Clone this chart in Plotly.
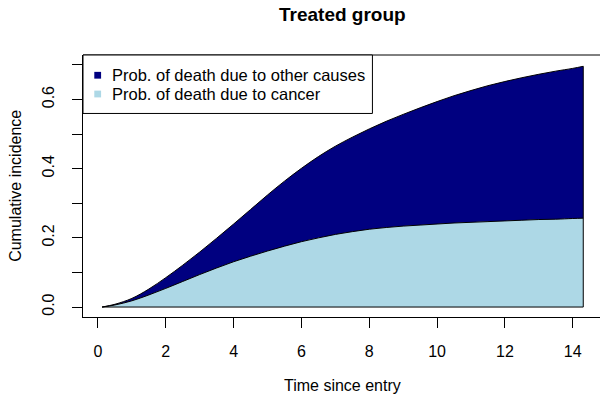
import plotly.graph_objects as go

# ---- data ----
time = [0.12, 0.5, 1.0, 1.5, 2.0, 2.5, 3.0, 3.5, 4.0, 4.5, 5.0, 5.5, 6.0, 6.5,
        7.0, 7.5, 8.0, 8.5, 9.0, 9.5, 10.0, 10.5, 11.0, 11.5, 12.0, 12.5,
        13.0, 13.5, 14.0, 14.31]
cum_cancer = [0.0, 0.006, 0.018, 0.035, 0.054, 0.074, 0.094, 0.113, 0.131,
              0.147, 0.162, 0.176, 0.189, 0.200, 0.210, 0.218, 0.225, 0.230,
              0.234, 0.237, 0.240, 0.243, 0.245, 0.247, 0.249, 0.251, 0.253,
              0.254, 0.256, 0.257]
cum_total = [0.0, 0.008, 0.025, 0.052, 0.085, 0.121, 0.159, 0.199, 0.240,
             0.282, 0.324, 0.364, 0.401, 0.435, 0.465, 0.491, 0.515, 0.537,
             0.557, 0.576, 0.594, 0.611, 0.626, 0.640, 0.652, 0.663, 0.673,
             0.682, 0.690, 0.696]
x_ticks = [0, 2, 4, 6, 8, 10, 12, 14]
y_ticks = [0.0, 0.1, 0.2, 0.3, 0.4, 0.5, 0.6, 0.7]
y_ticklabels = ["0.0", "", "0.2", "", "0.4", "", "0.6", ""]
legend_labels = ["Prob. of death due to other causes", "Prob. of death due to cancer"]
title_text = "Treated group"
x_title = "Time since entry"
y_title = "Cumulative incidence"

NAVY = "#000080"
LIGHTBLUE = "#ADD8E6"
FONT = "Liberation Sans, Arial, sans-serif"

W, H = 600, 395
L, R, T, B = 82.7, 0, 54.7, 77.7
PW, PH = W - L - R, H - T - B

def px_x(p):
    return (p - L) / PW

def px_y(p):
    return 1 - (p - T) / PH

fig = go.Figure()

# cancer area (0 -> cancer)
fig.add_trace(go.Scatter(
    x=time, y=cum_cancer, fill="tozeroy", fillcolor=LIGHTBLUE,
    mode="lines", line=dict(color="black", width=1, shape="spline", smoothing=1.0),
    showlegend=False, hoverinfo="skip"))
# other causes area (cancer -> total)
fig.add_trace(go.Scatter(
    x=time, y=cum_total, fill="tonexty", fillcolor=NAVY,
    mode="lines", line=dict(color="black", width=1, shape="spline", smoothing=1.0),
    showlegend=False, hoverinfo="skip"))
# polygon edges: baseline and right side
fig.add_trace(go.Scatter(
    x=[time[0], time[-1], time[-1]], y=[0.0, 0.0, cum_total[-1]],
    mode="lines", line=dict(color="black", width=1),
    showlegend=False, hoverinfo="skip"))

axis_common = dict(
    showgrid=False, zeroline=False, showline=True, linecolor="black",
    linewidth=1, ticks="outside", ticklen=10, tickwidth=1, tickcolor="black",
    tickfont=dict(family=FONT, size=16, color="black"))

fig.update_xaxes(range=[-0.442, 14.804], tickvals=x_ticks,
                 ticktext=[str(v) for v in x_ticks], ticklabelstandoff=10,
                 **axis_common)
fig.update_yaxes(range=[-0.0288, 0.7287], tickvals=y_ticks,
                 ticktext=y_ticklabels, tickangle=-90, ticklabelstandoff=12,
                 **axis_common)

shapes = [
    # top border of the plot box
    dict(type="line", xref="paper", yref="paper", x0=0, x1=1, y0=1, y1=1,
         line=dict(color="black", width=1)),
    # legend box
    dict(type="rect", xref="paper", yref="paper",
         x0=px_x(82.7), x1=px_x(372.3), y0=px_y(113.3), y1=px_y(54.7),
         fillcolor="white", line=dict(color="black", width=1), layer="above"),
]
legend_rows = [(75.0, NAVY), (93.8, LIGHTBLUE)]
for (cy, col) in legend_rows:
    shapes.append(dict(type="rect", xref="paper", yref="paper",
                       x0=px_x(94.0), x1=px_x(100.8),
                       y0=px_y(cy + 3.4), y1=px_y(cy - 3.4),
                       fillcolor=col, line=dict(width=0), layer="above"))

annotations = [
    dict(text="<b>%s</b>" % title_text, xref="paper", yref="paper",
         x=px_x(342.5), y=px_y(14.5), xanchor="center", yanchor="middle",
         showarrow=False, font=dict(family=FONT, size=19, color="black")),
    dict(text=x_title, xref="paper", yref="paper",
         x=px_x(342.5), y=px_y(386), xanchor="center", yanchor="middle",
         showarrow=False, font=dict(family=FONT, size=16, color="black")),
    dict(text=y_title, xref="paper", yref="paper",
         x=px_x(14.5), y=px_y(186), xanchor="center", yanchor="middle",
         textangle=-90, showarrow=False,
         font=dict(family=FONT, size=16, color="black")),
]
for (cy, col), lab in zip(legend_rows, legend_labels):
    annotations.append(dict(text=lab, xref="paper", yref="paper",
                            x=px_x(109.7), y=px_y(cy), xanchor="left",
                            yanchor="middle", showarrow=False,
                            font=dict(family=FONT, size=16.5, color="black")))

fig.update_layout(
    width=W, height=H,
    margin=dict(l=L, r=R, t=T, b=B, pad=0),
    paper_bgcolor="white", plot_bgcolor="white",
    shapes=shapes, annotations=annotations,
    font=dict(family=FONT, size=16, color="black"),
)

# remove the browser's default 8px page margin so the 600x395 figure fills the window
fig.write_html("out.html", config={"displayModeBar": False},
               post_script="document.body.style.margin='0';")
